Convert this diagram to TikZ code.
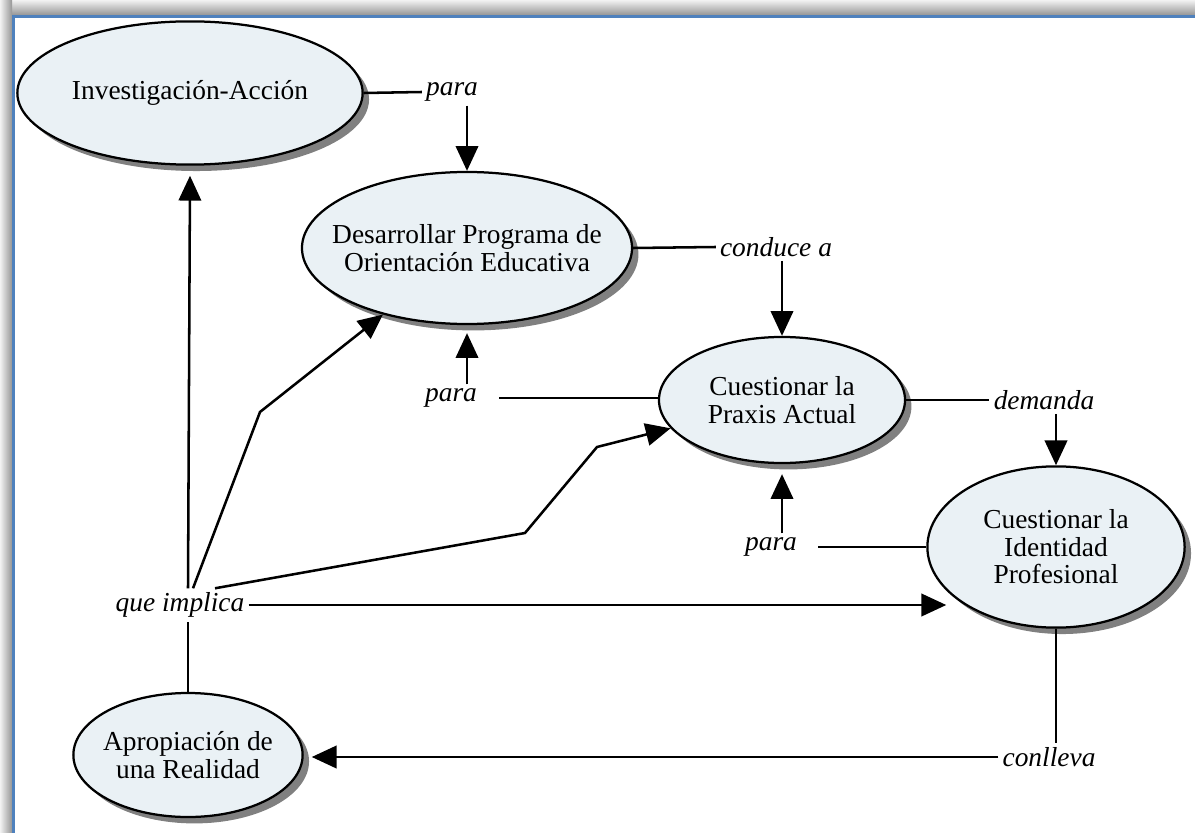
\documentclass[tikz,border=0pt]{standalone}
\usepackage{fontspec}
\setmainfont{Liberation Serif}
\usepackage{tikz}
\usetikzlibrary{arrows.meta,shapes.geometric,shadows,calc}
\definecolor{framegray}{RGB}{150,150,150}
\definecolor{frameblue}{RGB}{79,129,189}
\definecolor{ellfill}{RGB}{234,241,245}
\tikzset{
	concept/.style={
		ellipse, draw=black, line width=1.6pt, fill=ellfill,
		inner sep=0pt, inner xsep=-4cm, align=center,
		font=\fontsize{19.5}{19.5}\selectfont,
		drop shadow={shadow xshift=0.16cm, shadow yshift=-0.16cm, fill=black!50, opacity=1},
	},
	link/.style={
		font=\fontsize{19.5}{19.5}\selectfont\itshape, inner sep=0.1cm,
	},
	line/.style={
		draw, line width=1.8pt,
	},
	arrow/.style={
		line, -{Triangle[length=0.62cm,width=0.56cm]},
	}
}

\begin{document}
\begin{tikzpicture}[x=0.025cm, y=-0.025cm]
	\useasboundingbox (0,0) rectangle (1195,833);
	% Frame
	\shade[top color=white!95!black, bottom color=framegray] (0,0) rectangle (1195,15);
	\shade[left color=white!95!black, right color=framegray] (0,0) rectangle (12,833);
	\draw[frameblue, line width=2.2pt] (13.5,833) -- (13.5,16.5) -- (1195,16.5);
	% Concepts
	\node [concept, minimum width=8.63cm, minimum height=3.58cm] (inv) at (190,93) {Investigación-Acción};
	\node [concept, minimum width=8.25cm, minimum height=3.8cm] (des) at (467,248) {Desarrollar Programa de\\Orientación Educativa};
	\node [concept, minimum width=6.15cm, minimum height=3.15cm] (praxis) at (782,400) {Cuestionar la\\Praxis Actual};
	\node [concept, minimum width=6.43cm, minimum height=4.03cm] (idn) at (1056,547) {Cuestionar la\\Identidad\\Profesional};
	\node [concept, minimum width=5.73cm, minimum height=3.1cm] (apr) at (188,755) {Apropiación de\\una Realidad};
	% Link words
	\node [link] (p1) at (452,92) {para};
	\node [link] (ca) at (776,247) {conduce a};
	\node [link] (p2) at (451,398) {para};
	\node [link] (dm) at (1044,400) {demanda};
	\node [link] (p3) at (771,547) {para};
	\node [link] (qi) at (180,605) {que implica};
	\node [link] (cl) at (1049,757) {conlleva};
	% Knees
	\coordinate (k1) at (260,412);
	\coordinate (k2) at (525,533);
	\coordinate (k3) at (597,447);
	% Investigacion -> Desarrollar
	\draw[line] (inv.east) -- (p1.west);
	\draw[arrow] (p1.south -| des.north) -- (des.north);
	% Desarrollar -> Praxis
	\draw[line] (des.east) -- (ca.west);
	\draw[arrow] (ca.south -| praxis.north) -- (praxis.north);
	% Praxis -> Desarrollar
	\draw[line] ($(p2.east)+(18,0)$) -- (p2.east -| praxis.west);
	\draw[arrow] (p2.north -| des.south) -- ($(des.south)+(0,8)$);
	% Praxis -> Identidad
	\draw[line] (praxis.east) -- (dm.west);
	\draw[arrow] (dm.south -| idn.north) -- (idn.north);
	% Identidad -> Praxis
	\draw[line] ($(p3.east)+(17,0)$) -- (idn.west |- p3.east);
	\draw[arrow] (p3.north -| praxis.south) -- ($(praxis.south)+(0,10)$);
	% Identidad -> Apropiacion
	\draw[line] (idn.south) -- (cl.north -| idn.south);
	\draw[arrow] (cl.west) -- ($(cl.west -| apr.east)+(8,0)$);
	% Apropiacion -> everything
	\draw[line] (apr.north) -- (qi.south -| apr.north);
	\draw[arrow] (qi.north -| apr.north) -- ($(inv.south)+(0,10)$);
	\draw[arrow] ($(qi.north)+(13,0)$) -- (k1) -- (des);
	\draw[arrow] ($(qi.north)+(35,0)$) -- (k2) -- (k3) -- (praxis);
	\draw[arrow] (qi.east) -- ($(qi.east -| idn.west)+(20,0)$);
\end{tikzpicture}
\end{document}
